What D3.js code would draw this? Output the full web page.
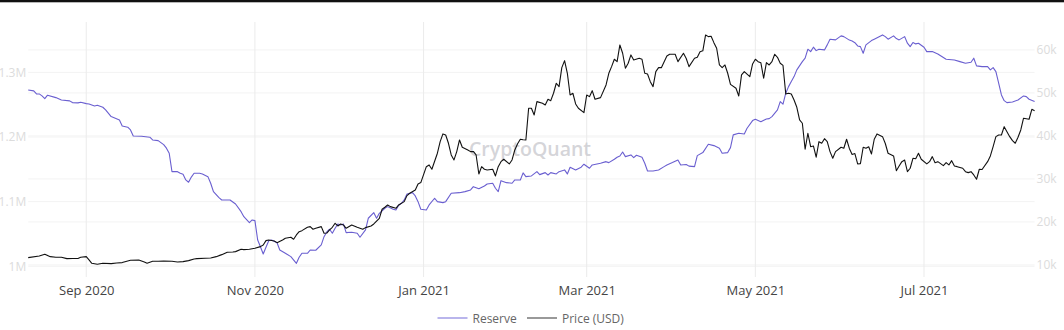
<!DOCTYPE html>
<html><head><meta charset="utf-8">
<script src="https://cdn.jsdelivr.net/npm/d3@7"></script>
<style>html,body{margin:0;padding:0;background:#fff;}svg{display:block;font-family:"Open Sans",sans-serif;}</style>
</head><body><svg id="c" width="1064" height="330"></svg>
<script>
const reserveDates = [
"2020-08-11","2020-08-13","2020-08-14","2020-08-15","2020-08-16","2020-08-17","2020-08-18","2020-08-21","2020-08-23","2020-08-26",
"2020-08-27","2020-08-29","2020-08-30","2020-09-01","2020-09-02","2020-09-04","2020-09-05","2020-09-07","2020-09-08","2020-09-10",
"2020-09-13","2020-09-14","2020-09-16","2020-09-17","2020-09-18","2020-09-21","2020-09-24","2020-09-25","2020-09-27","2020-09-29",
"2020-09-30","2020-10-01","2020-10-02","2020-10-04","2020-10-05","2020-10-06","2020-10-07","2020-10-08","2020-10-09","2020-10-10",
"2020-10-12","2020-10-13","2020-10-15","2020-10-16","2020-10-17","2020-10-19","2020-10-20","2020-10-23","2020-10-25","2020-10-27",
"2020-10-28","2020-10-30","2020-10-31","2020-11-01","2020-11-02","2020-11-03","2020-11-04","2020-11-05","2020-11-06","2020-11-07",
"2020-11-09","2020-11-10","2020-11-12","2020-11-14","2020-11-16","2020-11-17","2020-11-18","2020-11-20","2020-11-21","2020-11-23",
"2020-11-25","2020-11-26","2020-11-27","2020-11-28","2020-11-29","2020-11-30","2020-12-01","2020-12-02","2020-12-03","2020-12-04",
"2020-12-06","2020-12-08","2020-12-09","2020-12-11","2020-12-12","2020-12-14","2020-12-15","2020-12-16","2020-12-18","2020-12-19",
"2020-12-21","2020-12-22","2020-12-23","2020-12-24","2020-12-25","2020-12-26","2020-12-28","2020-12-29","2020-12-30","2020-12-31",
"2021-01-02","2021-01-03","2021-01-05","2021-01-06","2021-01-08","2021-01-09","2021-01-11","2021-01-14","2021-01-16","2021-01-18",
"2021-01-19","2021-01-21","2021-01-23","2021-01-24","2021-01-26","2021-01-27","2021-01-28","2021-01-29","2021-01-31","2021-02-02",
"2021-02-03","2021-02-05","2021-02-06","2021-02-07","2021-02-09","2021-02-11","2021-02-12","2021-02-14","2021-02-15","2021-02-16",
"2021-02-18","2021-02-19","2021-02-21","2021-02-22","2021-02-23","2021-02-25","2021-02-27","2021-02-28","2021-03-02","2021-03-03",
"2021-03-06","2021-03-08","2021-03-09","2021-03-11","2021-03-12","2021-03-13","2021-03-14","2021-03-15","2021-03-17","2021-03-18",
"2021-03-19","2021-03-21","2021-03-22","2021-03-23","2021-03-25","2021-03-27","2021-03-29","2021-03-30","2021-04-01","2021-04-03",
"2021-04-04","2021-04-06","2021-04-07","2021-04-09","2021-04-10","2021-04-12","2021-04-14","2021-04-16","2021-04-18","2021-04-19",
"2021-04-21","2021-04-22","2021-04-23","2021-04-25","2021-04-27","2021-04-28","2021-04-30","2021-05-01","2021-05-03","2021-05-05",
"2021-05-06","2021-05-07","2021-05-09","2021-05-10","2021-05-11","2021-05-12","2021-05-13","2021-05-14","2021-05-15","2021-05-16",
"2021-05-18","2021-05-19","2021-05-20","2021-05-21","2021-05-22","2021-05-23","2021-05-24","2021-05-26","2021-05-27","2021-05-28",
"2021-05-30","2021-06-01","2021-06-02","2021-06-04","2021-06-05","2021-06-06","2021-06-07","2021-06-08","2021-06-09","2021-06-10",
"2021-06-12","2021-06-13","2021-06-16","2021-06-17","2021-06-18","2021-06-20","2021-06-21","2021-06-22","2021-06-24","2021-06-25",
"2021-06-26","2021-06-27","2021-06-28","2021-06-29","2021-07-01","2021-07-02","2021-07-04","2021-07-06","2021-07-09","2021-07-12",
"2021-07-14","2021-07-16","2021-07-18","2021-07-19","2021-07-20","2021-07-22","2021-07-24","2021-07-25","2021-07-26","2021-07-27",
"2021-07-28","2021-07-29","2021-07-30","2021-07-31","2021-08-02","2021-08-04","2021-08-06","2021-08-07","2021-08-08","2021-08-10"];
const reserveValues = [
1272900,1271400,1266700,1266700,1263600,1259400,1264700,1261000,1257400,1255900,
1253300,1252800,1253800,1251700,1251200,1248100,1249200,1246100,1241900,1231600,
1226500,1217200,1215200,1211000,1201700,1201200,1199700,1195500,1194500,1188300,
1182700,1174900,1146400,1146400,1143900,1142400,1133600,1130000,1138000,1144000,
1144000,1142900,1138700,1128500,1115500,1106200,1102600,1102600,1096400,1084500,
1076800,1067500,1071700,1070600,1040700,1030300,1019000,1029400,1039600,1040700,
1036500,1025200,1020100,1014900,1004600,1013900,1020100,1020100,1025200,1024800,
1033000,1045800,1053100,1057300,1051100,1058800,1065500,1063900,1065500,1052000,
1052600,1051100,1044900,1056200,1074300,1083000,1074300,1082000,1089800,1092300,
1088200,1087100,1094400,1097500,1102600,1111900,1113900,1108800,1100000,1088200,
1087100,1094900,1105300,1100000,1098500,1100000,1113000,1113900,1115500,1118100,
1123200,1120100,1124300,1127400,1128500,1120700,1115500,1132500,1129400,1128500,
1133600,1133500,1144500,1138700,1139800,1146400,1141800,1144900,1141300,1144900,
1142900,1146400,1149100,1142900,1153300,1149100,1153300,1157900,1151700,1156800,
1159400,1161900,1160400,1165600,1168700,1170700,1176900,1169700,1172300,1168100,
1171800,1168700,1159400,1147500,1147500,1149100,1154200,1156800,1160400,1164500,
1156800,1157500,1155000,1154200,1171200,1175900,1188900,1186700,1182700,1174900,
1175900,1183600,1203300,1205900,1204800,1213600,1225400,1227600,1223800,1228000,
1228500,1231600,1241900,1254800,1250800,1267800,1278000,1285800,1293500,1303900,
1316700,1322000,1335900,1332200,1339000,1333700,1335900,1334800,1342600,1351400,
1350300,1356500,1355400,1350000,1348500,1346000,1341000,1339900,1329700,1342600,
1349200,1351400,1358000,1355400,1351400,1356500,1352300,1350300,1355400,1345200,
1339900,1346200,1344100,1345200,1339000,1332200,1332200,1328600,1320400,1319300,
1316700,1314200,1315800,1322000,1310100,1309000,1309000,1303900,1307400,1301200,
1283300,1265200,1256300,1253300,1254300,1257400,1263600,1262500,1258500,1254800];

const priceDates = [
"2020-08-11","2020-08-15","2020-08-17","2020-08-19","2020-08-21","2020-08-23","2020-08-25","2020-08-27","2020-08-29","2020-08-30",
"2020-09-01","2020-09-02","2020-09-03","2020-09-05","2020-09-07","2020-09-10","2020-09-12","2020-09-14","2020-09-16","2020-09-17",
"2020-09-20","2020-09-22","2020-09-23","2020-09-25","2020-09-27","2020-09-29","2020-10-02","2020-10-04","2020-10-06","2020-10-08",
"2020-10-10","2020-10-11","2020-10-14","2020-10-16","2020-10-18","2020-10-20","2020-10-22","2020-10-24","2020-10-25","2020-10-27",
"2020-10-28","2020-10-30","2020-11-01","2020-11-03","2020-11-04","2020-11-05","2020-11-06","2020-11-08","2020-11-09","2020-11-11",
"2020-11-12","2020-11-14","2020-11-15","2020-11-16","2020-11-17","2020-11-18","2020-11-20","2020-11-21","2020-11-22","2020-11-23",
"2020-11-25","2020-11-26","2020-11-27","2020-11-28","2020-11-29","2020-11-30","2020-12-01","2020-12-02","2020-12-03","2020-12-04",
"2020-12-06","2020-12-08","2020-12-09","2020-12-10","2020-12-11","2020-12-13","2020-12-14","2020-12-16","2020-12-17","2020-12-18",
"2020-12-19","2020-12-20","2020-12-22","2020-12-23","2020-12-25","2020-12-26","2020-12-27","2020-12-29","2020-12-30","2020-12-31",
"2021-01-02","2021-01-03","2021-01-04","2021-01-06","2021-01-07","2021-01-08","2021-01-09","2021-01-10","2021-01-11","2021-01-12",
"2021-01-13","2021-01-14","2021-01-15","2021-01-17","2021-01-18","2021-01-19","2021-01-20","2021-01-21","2021-01-22","2021-01-23",
"2021-01-24","2021-01-26","2021-01-27","2021-01-28","2021-01-29","2021-01-30","2021-02-01","2021-02-02","2021-02-03","2021-02-04",
"2021-02-05","2021-02-06","2021-02-07","2021-02-08","2021-02-09","2021-02-10","2021-02-11","2021-02-13","2021-02-14","2021-02-15",
"2021-02-16","2021-02-17","2021-02-18","2021-02-19","2021-02-20","2021-02-21","2021-02-22","2021-02-23","2021-02-24","2021-02-25",
"2021-02-26","2021-02-28","2021-03-01","2021-03-02","2021-03-03","2021-03-04","2021-03-06","2021-03-08","2021-03-09","2021-03-10",
"2021-03-11","2021-03-12","2021-03-13","2021-03-14","2021-03-15","2021-03-16","2021-03-17","2021-03-18","2021-03-20","2021-03-21",
"2021-03-22","2021-03-23","2021-03-24","2021-03-25","2021-03-26","2021-03-27","2021-03-28","2021-03-30","2021-03-31","2021-04-02",
"2021-04-03","2021-04-05","2021-04-06","2021-04-07","2021-04-09","2021-04-10","2021-04-11","2021-04-12","2021-04-13","2021-04-14",
"2021-04-15","2021-04-16","2021-04-17","2021-04-18","2021-04-19","2021-04-20","2021-04-21","2021-04-22","2021-04-24","2021-04-25",
"2021-04-26","2021-04-27","2021-04-29","2021-04-30","2021-05-01","2021-05-02","2021-05-03","2021-05-04","2021-05-05","2021-05-06",
"2021-05-07","2021-05-08","2021-05-09","2021-05-10","2021-05-11","2021-05-12","2021-05-13","2021-05-14","2021-05-15","2021-05-16",
"2021-05-17","2021-05-18","2021-05-19","2021-05-20","2021-05-21","2021-05-22","2021-05-23","2021-05-24","2021-05-25","2021-05-26",
"2021-05-27","2021-05-28","2021-05-29","2021-05-30","2021-06-01","2021-06-02","2021-06-03","2021-06-04","2021-06-05","2021-06-06",
"2021-06-07","2021-06-08","2021-06-09","2021-06-10","2021-06-11","2021-06-12","2021-06-13","2021-06-14","2021-06-16","2021-06-17",
"2021-06-18","2021-06-20","2021-06-21","2021-06-22","2021-06-23","2021-06-24","2021-06-25","2021-06-26","2021-06-27","2021-06-28",
"2021-06-29","2021-06-30","2021-07-02","2021-07-03","2021-07-04","2021-07-05","2021-07-06","2021-07-08","2021-07-09","2021-07-10",
"2021-07-11","2021-07-12","2021-07-13","2021-07-15","2021-07-16","2021-07-17","2021-07-18","2021-07-19","2021-07-20","2021-07-21",
"2021-07-22","2021-07-24","2021-07-25","2021-07-26","2021-07-27","2021-07-28","2021-07-29","2021-07-30","2021-07-31","2021-08-01",
"2021-08-02","2021-08-03","2021-08-04","2021-08-05","2021-08-06","2021-08-08","2021-08-09","2021-08-10"];
const priceValues = [
11700,12090,12490,11930,11790,11790,11470,11510,11510,11790,
11930,11160,10390,10160,10390,10300,10470,10550,10930,11090,
11160,10700,10390,10850,10850,10930,10850,10700,10780,11010,
11400,11470,11550,11630,11930,12400,12950,13020,13100,13640,
13560,13640,13880,14260,14650,15660,15810,15580,15190,15810,
16200,16430,15970,16980,17740,17980,18760,18910,18300,18530,
18910,17360,17430,18140,18760,19690,19070,19530,19300,18530,
19300,18760,18530,18300,18680,19070,19530,20850,22950,23410,
23950,23560,23180,23950,24730,26120,26670,27440,28840,29150,
32860,33260,32260,35980,38670,40470,40230,38300,35580,34420,
36360,39070,37370,36740,36360,36400,35580,31160,32860,32260,
32090,32260,30700,32860,34020,34580,33490,34420,36740,38200,
39230,39100,39070,46440,46440,44880,47980,47600,47210,48530,
48210,49930,52260,51470,55900,57510,54580,49530,49930,47440,
46440,45420,49530,49140,50530,48530,48910,51860,54580,56120,
57840,57280,61160,59230,55740,56910,58840,57670,58070,57840,
54580,54420,52630,51470,54950,55880,55880,58600,59000,59000,
57280,59230,58000,56120,58070,58300,59600,59800,63490,63100,
63200,61700,60400,56510,55880,56510,54580,52000,51090,49300,
54190,54950,53790,56740,57840,57280,57000,53420,57050,56510,
57280,59000,58300,56910,56400,49770,49930,49770,48370,46670,
43720,42950,36910,40630,37510,37670,35050,38670,38300,39370,
38670,36360,34810,36360,37370,37140,39230,37100,35700,35900,
33490,33560,37370,37140,37500,35810,39230,40470,39840,38250,
35980,35350,31930,33020,34020,34400,31700,32490,34810,34700,
35980,34580,33490,34020,35190,33790,34020,33090,33790,33260,
34260,33020,32860,32490,31700,31470,31700,30930,29930,32260,
32200,34020,35350,37510,39840,40230,40230,42160,41000,39840,
38910,38300,39700,41400,44120,43880,46200,45880];

const dateRange = ["2020-08-11", "2021-08-10"];
const leftTicks = [1000000, 1100000, 1200000, 1300000];
const leftTickLabels = ["1M", "1.1M", "1.2M", "1.3M"];
const rightTicks = [10000, 20000, 30000, 40000, 50000, 60000];
const rightTickLabels = ["10k", "20k", "30k", "40k", "50k", "60k"];
const leftDomain = [983400, 1378000];
const rightDomain = [7200, 66500];
const seriesNames = ["Reserve", "Price (USD)"];

const parse = d3.utcParse("%Y-%m-%d");
const reserve = reserveDates.map((d, i) => ({ date: parse(d), value: reserveValues[i] }));
const price = priceDates.map((d, i) => ({ date: parse(d), value: priceValues[i] }));

const W = 1064, H = 330;
const plot = { left: 28.2, right: 1034.6, top: 22, bottom: 277 };
const svg = d3.select("#c");

svg.append("rect").attr("x", 0).attr("y", 0).attr("width", W).attr("height", 2.3).attr("fill", "#111");

const x = d3.scaleUtc().domain(dateRange.map(parse)).range([plot.left, plot.right]);
const yL = d3.scaleLinear().domain(leftDomain).range([plot.bottom, plot.top]);
const yR = d3.scaleLinear().domain(rightDomain).range([plot.bottom, plot.top]);

const monthTicks = x.ticks(d3.utcMonth.every(2));
const fmt = d3.utcFormat("%b %Y");

// gridlines
const grid = svg.append("g");
grid.selectAll(".hl").data(leftTicks).join("line")
  .attr("x1", plot.left).attr("x2", plot.right)
  .attr("y1", d => yL(d)).attr("y2", d => yL(d))
  .attr("stroke", "#f3f3f3").attr("stroke-width", 1);
grid.selectAll(".hr").data(rightTicks).join("line")
  .attr("x1", plot.left).attr("x2", plot.right)
  .attr("y1", d => yR(d)).attr("y2", d => yR(d))
  .attr("stroke", "#f3f3f3").attr("stroke-width", 1);
grid.selectAll(".v").data(monthTicks).join("line")
  .attr("x1", d => x(d)).attr("x2", d => x(d))
  .attr("y1", plot.top).attr("y2", plot.bottom)
  .attr("stroke", "#ebebeb").attr("stroke-width", 1);

// watermark
svg.append("text").attr("x", 530).attr("y", 148).attr("text-anchor", "middle")
  .attr("dominant-baseline", "central").attr("font-size", 19.5).attr("font-weight", 600)
  .attr("fill", "#cfcfd4").attr("fill-opacity", 0.9).text("CryptoQuant");

// axes
const xAxis = svg.append("g").attr("transform", `translate(0,${plot.bottom})`)
  .call(d3.axisBottom(x).tickValues(monthTicks).tickFormat(fmt).tickSize(0).tickPadding(9));
xAxis.select(".domain").remove();
xAxis.selectAll("text").attr("font-size", 13).attr("fill", "#444").attr("font-family", "Open Sans");

const lAxis = svg.append("g").attr("transform", `translate(${plot.left},0)`)
  .call(d3.axisLeft(yL).tickValues(leftTicks).tickFormat((d, i) => leftTickLabels[i]).tickSize(0).tickPadding(2));
lAxis.select(".domain").remove();
lAxis.selectAll("text").attr("font-size", 12).attr("fill", "#dcdcdc").attr("font-family", "Open Sans");

const rAxis = svg.append("g").attr("transform", `translate(${plot.right},0)`)
  .call(d3.axisRight(yR).tickValues(rightTicks).tickFormat((d, i) => rightTickLabels[i]).tickSize(0).tickPadding(2));
rAxis.select(".domain").remove();
rAxis.selectAll("text").attr("font-size", 12).attr("fill", "#dcdcdc").attr("font-family", "Open Sans");

// lines
const lineL = d3.line().x(d => x(d.date)).y(d => yL(d.value));
const lineR = d3.line().x(d => x(d.date)).y(d => yR(d.value));
svg.append("path").datum(reserve).attr("d", lineL).attr("fill", "none")
  .attr("stroke", "#6a5fd0").attr("stroke-width", 1.1).attr("stroke-linejoin", "round");
svg.append("path").datum(price).attr("d", lineR).attr("fill", "none")
  .attr("stroke", "#111").attr("stroke-width", 1.1).attr("stroke-linejoin", "round");

// legend
const legend = svg.append("g").attr("transform", "translate(0,318)");
const items = [
  { name: seriesNames[0], color: "#a29ce6", x0: 437.5 },
  { name: seriesNames[1], color: "#777", x0: 527 }
];
items.forEach(it => {
  legend.append("line").attr("x1", it.x0).attr("x2", it.x0 + 30).attr("y1", 0).attr("y2", 0)
    .attr("stroke", it.color).attr("stroke-width", 1.5);
  legend.append("text").attr("x", it.x0 + 35).attr("y", 0).attr("dominant-baseline", "central")
    .attr("font-size", 12).attr("fill", "#666").text(it.name);
});
</script></body></html>
